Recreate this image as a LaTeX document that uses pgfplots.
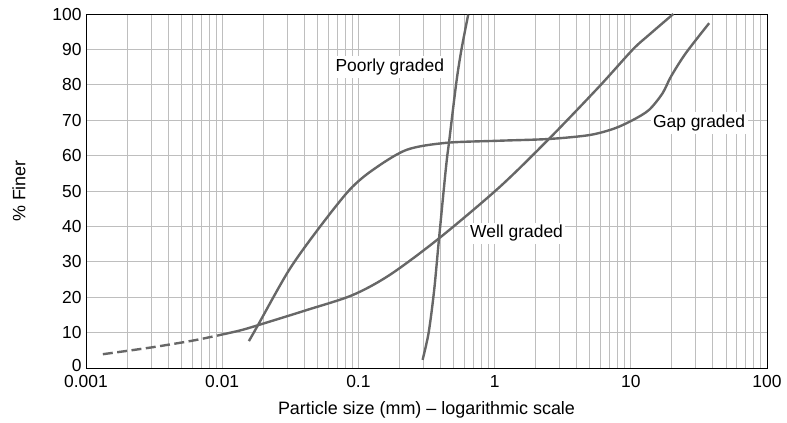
\documentclass[border=0pt]{standalone}
\usepackage{fontspec}
\setmainfont{Liberation Sans}
\usepackage{pgfplots}
\pgfplotsset{compat=1.18}
\definecolor{curve}{HTML}{676767}
\definecolor{gridc}{HTML}{BEBEBE}
\begin{document}
\begin{tikzpicture}[x=1bp,y=1bp,font=\fontsize{17.5}{20}\selectfont]
\begin{axis}[
    scale only axis,
    width=681bp, height=354bp,
    xmode=log,
    xmin=0.001, xmax=100,
    ymin=0, ymax=100,
    xtick={0.001,0.01,0.1,1,10,100},
    xticklabels={0.001,0.01,0.1,1,10,100},
    ytick={0,10,...,100},
    yticklabels={\raisebox{6bp}{0},10,20,30,40,50,60,70,80,90,100},
    major tick length=0pt, minor tick length=0pt,
    grid=both,
    major grid style={gridc, line width=0.9pt},
    minor grid style={gridc, line width=0.9pt},
    axis line style={black, line width=0.9pt},
    tick label style={font=\fontsize{17.5}{20}\selectfont},
    xticklabel style={yshift=-4bp},
    yticklabel style={xshift=-1bp},
    /pgf/number format/assume math mode=true,
    xlabel={Particle size (mm) -- logarithmic scale},
    ylabel={\% Finer},
    label style={font=\fontsize{18}{21}\selectfont},
    xlabel style={yshift=-7bp},
    ylabel style={yshift=20bp},
    clip=false,
]
% Well graded, dashed fine part
\addplot[curve, line width=2.4pt, dash pattern=on 10pt off 4.5pt, smooth] coordinates {
    (0.00133,3.9) (0.003,5.8) (0.006,7.7) (0.0093,9.2)
};
% Well graded
\addplot[curve, line width=2.4pt, smooth] coordinates {
    (0.0093,9.2) (0.0135,10.6) (0.018,12.0) (0.042,16.4) (0.0906,20.6)
    (0.17,26.3) (0.39,36.6) (1.08,51.0) (2.52,64.8) (5.86,79.5)
    (10.3,89.9) (13.6,94.1) (20.5,100)
};
% Gap graded
\addplot[curve, line width=2.4pt, smooth] coordinates {
    (0.0157,7.6) (0.018,11.6) (0.031,27.7) (0.052,39.8) (0.086,50.3)
    (0.127,55.9) (0.225,61.6) (0.44,63.6) (1.08,64.2) (2.52,64.7)
    (4.96,65.8) (7.5,67.6) (10.3,70) (13.6,72.9) (17.1,77.6) (19.7,82.3)
    (25.3,88.9) (37.6,97.4)
};
% Poorly graded
\addplot[curve, line width=2.4pt, smooth] coordinates {
    (0.296,2.3) (0.328,10) (0.36,22) (0.39,36.2) (0.44,56.8) (0.465,64.4)
    (0.523,80.5) (0.57,89.8) (0.64,99.8)
};
\node[fill=white, inner sep=2.5pt] at (axis cs:0.17,85) {Poorly graded};
\node[fill=white, inner sep=2.5pt] at (axis cs:1.45,38) {Well graded};
\node[fill=white, inner sep=2.5pt] at (axis cs:31.7,69.2) {Gap graded};
\end{axis}
\pgfresetboundingbox
\path (-86,-54) rectangle (701,368);
\end{tikzpicture}
\end{document}
